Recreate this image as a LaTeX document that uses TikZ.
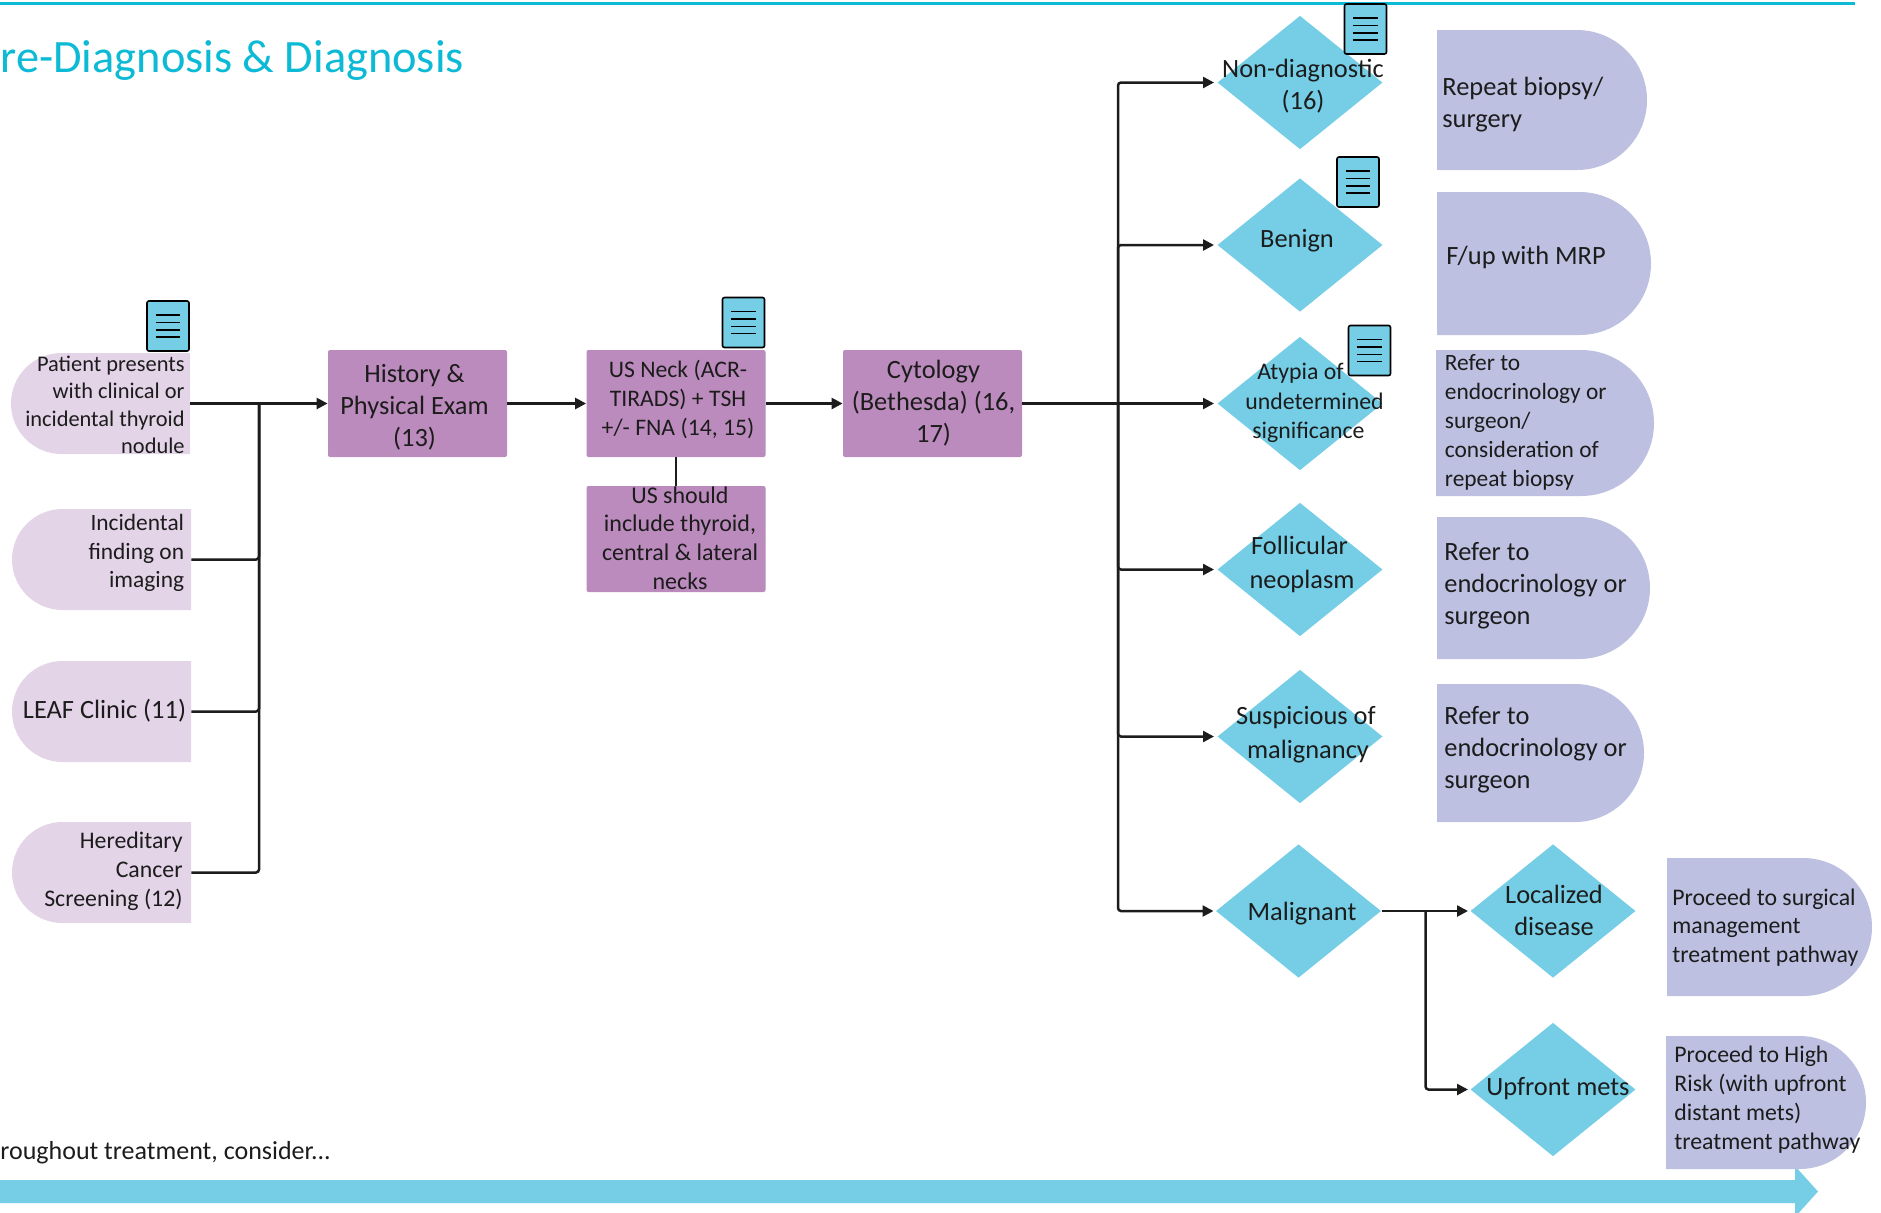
\documentclass[tikz,border=0pt]{standalone}
\usepackage{fontspec}
\setmainfont{Carlito}
\usetikzlibrary{arrows.meta,shapes.geometric,shapes.misc,calc}
\definecolor{ink}{HTML}{1C1C1C}
\definecolor{skyc}{HTML}{75CEE6}
\definecolor{titlec}{HTML}{0DBAD6}
\definecolor{plum}{HTML}{BC8BBD}
\definecolor{pale}{HTML}{E3D4E8}
\definecolor{lav}{HTML}{BDC0E1}
\newcommand{\fs}[2]{\fontsize{#1}{#2}\selectfont}
\tikzset{
 x=0.5pt,y=-0.5pt,
 conn/.style={draw=ink,line width=1.25pt,rounded corners=1.5pt},
 tip/.style={-{Triangle[length=5.5pt,width=5.5pt]}},
 txt/.style={inner sep=0pt,text=ink,font=\fs{13.2}{16}},
 srcpill/.style={rounded rectangle,rounded rectangle right arc=none,fill=pale,inner sep=0pt,minimum width=89.5pt,minimum height=50.5pt},
 outpill/.style={rounded rectangle,rounded rectangle left arc=none,fill=lav,inner sep=0pt},
 stepbox/.style={fill=plum,rounded corners=1pt,inner sep=0pt,minimum width=89.5pt,minimum height=53.5pt},
 dec/.style={diamond,fill=skyc,inner sep=0pt,minimum width=82.6pt,minimum height=66.8pt},
 docicon/.style={draw=black,line width=0.8pt,fill=skyc,rounded corners=1pt,inner sep=0pt,minimum width=21pt,minimum height=25pt,
  path picture={
   \foreach \f in {.28,.43,.58,.72}{
    \draw[black,line width=0.75pt] ($(path picture bounding box.north west)!\f!(path picture bounding box.south west)+(4.3pt,0)$) -- ($(path picture bounding box.north east)!\f!(path picture bounding box.south east)+(-4.3pt,0)$);
   }}},
}
\begin{document}
\begin{tikzpicture}
\useasboundingbox (0,0) rectangle (1881,1212);
\clip (0,0) rectangle (1881,1212);
% top rule and title
\coordinate (ruleL) at (0,3.5);
\coordinate (ruleR) at (1855,3.5);
\draw[titlec,line width=1.25pt] (ruleL) -- (ruleR);
\node[anchor=base east,inner sep=0pt,text=titlec,font=\fs{23.2}{26}] (title) at (464.5,72) {re-Diagnosis \& Diagnosis};
% bottom arrow
\fill[skyc] (0,1180) -- (1795,1180) -- (1795,1166) -- (1818,1191.5) -- (1795,1217) -- (1795,1203) -- (0,1203) -- cycle;
\node[anchor=base west,txt,font=\fs{13}{16}] (through) at (0,1159) {roughout treatment, consider...};
% sources
\node[srcpill] (s1) at (100.5,403.5) {};
\node[srcpill] (s2) at (101.5,559.5) {};
\node[srcpill] (s3) at (101.5,711.5) {};
\node[srcpill] (s4) at (101.5,872.5) {};
\node[txt,anchor=east,align=right,font=\fs{11.2}{13.7}] (s1t) at (185,405) {Patient presents\\with clinical or\\incidental thyroid\\nodule};
\node[txt,anchor=east,align=right,font=\fs{11.7}{14.3}] (s2t) at (184.5,553) {Incidental\\finding on\\imaging};
\node[txt,anchor=east,align=right,font=\fs{13.2}{16}] (s3t) at (186.5,711) {LEAF Clinic (11)};
\node[txt,anchor=east,align=right,font=\fs{11.9}{14.5}] (s4t) at (183,871) {Hereditary\\Cancer\\Screening (12)};
% process boxes
\node[stepbox] (hist) at (417.5,403.5) {};
\node[txt,align=center] (histt) at (414.5,407) {History \&\\Physical Exam\\(13)};
\node[stepbox] (neck) at (676,403.5) {};
\node[txt,align=center,font=\fs{11.85}{14.4}] (neckt) at (678,399.2) {US Neck (ACR-\\TIRADS) + TSH\\+/- FNA (14, 15)};
\node[stepbox] (cyto) at (932.5,403.5) {};
\node[txt,align=center] (cytot) at (933.5,403) {Cytology\\(Bethesda) (16,\\17)};
\node[stepbox,minimum height=53pt] (usinc) at (676,539) {};
\node[txt,align=center,font=\fs{12}{14.3}] (usinct) at (680,538) {US should\\include thyroid,\\central \& lateral\\necks};
% decisions
\node[dec] (d1) at (1300,82.5) {};
\node[dec] (d2) at (1300,245) {};
\node[dec] (d3) at (1300,403.5) {};
\node[dec] (d4) at (1300,569.5) {};
\node[dec] (d5) at (1300,736.5) {};
\node[dec] (d6) at (1298.5,911) {};
\node[dec] (d7) at (1553,911) {};
\node[dec] (d8) at (1553,1089.5) {};
\node[txt,align=center] (d1t) at (1303,86.2) {Non-diagnostic\\(16)};
\node[txt] (d2t) at (1297,241) {Benign};
\node[txt,align=center,font=\fs{11.9}{14.7}] (d3t) at (1314.5,403) {Atypia of\kern14pt\\undetermined\\significance\kern6pt};
\node[txt,align=center,font=\fs{13.2}{17}] (d4t) at (1302,564) {Follicular\kern2.4pt\\neoplasm};
\node[txt,align=center,font=\fs{13.2}{16.8}] (d5t) at (1306,734.6) {Suspicious of\\\kern2pt malignancy};
\node[txt] (d6t) at (1302,914) {Malignant};
\node[txt,align=center] (d7t) at (1554,910.2) {Localized\\disease};
\node[txt] (d8t) at (1558,1088.4) {Upfront mets};
% outcomes
\node[outpill,minimum width=105pt,minimum height=70pt] (o1) at (1542,100) {};
\node[outpill,minimum width=107pt,minimum height=71.5pt] (o2) at (1544,263.5) {};
\node[outpill,minimum width=109pt,minimum height=73pt] (o3) at (1545,423) {};
\node[outpill,minimum width=106.5pt,minimum height=71pt] (o4) at (1543.5,588) {};
\node[outpill,minimum width=103.5pt,minimum height=69pt] (o5) at (1540.5,753) {};
\node[outpill,minimum width=102.5pt,minimum height=69pt] (o6) at (1769.5,927) {};
\node[outpill,minimum width=100pt,minimum height=66.5pt] (o7) at (1766,1102.5) {};
\node[txt,anchor=west,align=left,font=\fs{13.2}{16.2}] (o1t) at (1442,104.3) {Repeat biopsy/\\surgery};
\node[txt,anchor=west] (o2t) at (1446,257.4) {F/up with MRP};
\node[txt,anchor=west,align=left,font=\fs{11.7}{14.4}] (o3t) at (1444.5,422.4) {Refer to\\endocrinology or\\surgeon/\\consideration of\\repeat biopsy};
\node[txt,anchor=west,align=left] (o4t) at (1444,586) {Refer to\\endocrinology or\\surgeon};
\node[txt,anchor=west,align=left] (o5t) at (1444,750) {Refer to\\endocrinology or\\surgeon};
\node[txt,anchor=west,align=left,font=\fs{11.9}{14.4}] (o6t) at (1672,927.5) {Proceed to surgical\\management\\treatment pathway};
\node[txt,anchor=west,align=left,font=\fs{11.9}{14.4}] (o7t) at (1674,1099.5) {Proceed to High\\Risk (with upfront\\distant mets)\\treatment pathway};
% document icons
\node[docicon] (i1) at (168,326) {};
\node[docicon] (i2) at (743.5,322.5) {};
\node[docicon] (i3) at (1365.5,29) {};
\node[docicon] (i4) at (1358,182) {};
\node[docicon] (i5) at (1369.5,350.5) {};
% left connectors
\coordinate (tA) at (259,403.5);
\draw[conn,tip] (s1.east) -- (hist.west);
\draw[conn] (s2.east) -| (tA);
\draw[conn] (s3.east) -| (tA);
\draw[conn] (s4.east) -| (tA);
\draw[conn,tip] (hist.east) -- (neck.west);
\draw[conn,tip] (neck.east) -- (cyto.west);
\draw[conn] (neck.south) -- (usinc.north);
% fan-out
\coordinate (tB) at (1118,403.5);
\draw[conn,tip] (cyto.east) -- ($(d3.west)+(-1.5pt,0)$);
\foreach \d in {d1,d2,d4,d5}{
 \draw[conn,tip] (tB) |- ($(\d.west)+(-1.5pt,0)$);
}
\draw[conn,tip] (tB) |- ($(d6.west)+(-1pt,0)$);
% malignant branch
\coordinate (tC) at (1425.5,911);
\draw[conn,tip] (d6.east) -- ($(d7.west)+(-1pt,0)$);
\draw[conn,tip] (tC) |- ($(d8.west)+(-1pt,0)$);
\end{tikzpicture}
\end{document}
